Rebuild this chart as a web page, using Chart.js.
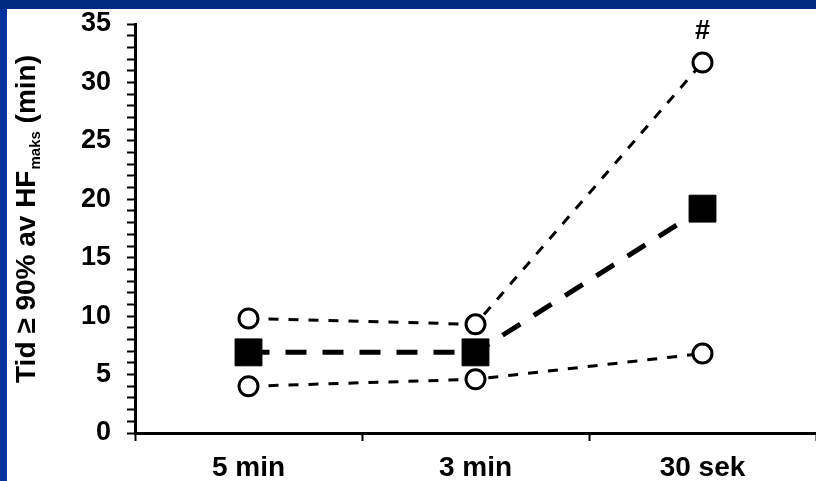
<!DOCTYPE html>
<html>
<head>
<meta charset="utf-8">
<script src="https://cdn.jsdelivr.net/npm/chart.js@4/dist/chart.umd.min.js"></script>
<style>
  html, body { margin: 0; padding: 0; width: 816px; height: 481px; overflow: hidden; background: #0033a0; }
  #top { position: absolute; left: 0; top: 0; width: 816px; height: 9px; background: #002a80; }
  #wrap { position: absolute; left: 7px; top: 9px; width: 809px; height: 472px; background: #ffffff; }
</style>
</head>
<body>
<div id="top"></div>
<div id="wrap"><canvas id="c" width="809" height="472"></canvas></div>
<script>
const categories = ['5 min', '3 min', '30 sek'];
const upperValues = [9.8, 9.3, 31.7];
const meanValues = [6.9, 6.9, 19.2];
const lowerValues = [4.0, 4.6, 6.8];
const yMin = 0, yMax = 35, yMajorStep = 5, yMinorStep = 1;
const markIndex = 2;
const markText = '#';
const yTitleMain = 'Tid \u2265 90% av HF';
const yTitleSub = 'maks';
const yTitleEnd = ' (min)';

const FONT = '"Liberation Sans", Arial, sans-serif';

const annotPlugin = {
  id: 'annot',
  afterDraw(chart) {
    const ctx = chart.ctx;
    const xs = chart.scales.x, ys = chart.scales.y;
    // "#" mark
    ctx.save();
    ctx.fillStyle = '#000';
    ctx.font = 'bold 27px ' + FONT;
    ctx.textAlign = 'center';
    ctx.textBaseline = 'middle';
    ctx.fillText(markText, xs.getPixelForValue(markIndex), ys.getPixelForValue(upperValues[markIndex]) - 31);
    ctx.restore();
    // y-axis title with subscript
    ctx.save();
    ctx.translate(28, 374);
    ctx.rotate(-Math.PI / 2);
    ctx.fillStyle = '#000';
    ctx.textAlign = 'left';
    ctx.textBaseline = 'alphabetic';
    const big = 'bold 28px ' + FONT, small = 'bold 15px ' + FONT;
    ctx.font = big;
    let x = 0;
    ctx.fillText(yTitleMain, x, 0);
    x += ctx.measureText(yTitleMain).width + 1;
    ctx.font = small;
    ctx.fillText(yTitleSub, x, 5);
    x += ctx.measureText(yTitleSub).width;
    ctx.font = big;
    ctx.fillText(yTitleEnd, x, 0);
    ctx.restore();
  }
};

new Chart(document.getElementById('c'), {
  type: 'line',
  data: {
    labels: categories,
    datasets: [
      {
        data: upperValues,
        borderColor: '#000', borderWidth: 3, borderDash: [10, 10],
        pointStyle: 'circle', pointRadius: 9.5, pointBorderWidth: 3,
        pointBackgroundColor: '#fff', pointBorderColor: '#000', fill: false
      },
      {
        data: lowerValues,
        borderColor: '#000', borderWidth: 3, borderDash: [10, 10],
        pointStyle: 'circle', pointRadius: 9.5, pointBorderWidth: 3,
        pointBackgroundColor: '#fff', pointBorderColor: '#000', fill: false
      },
      {
        data: meanValues,
        borderColor: '#000', borderWidth: 5, borderDash: [21, 16],
        pointStyle: 'rect', pointRadius: 19, pointBorderWidth: 1,
        pointBackgroundColor: '#000', pointBorderColor: '#000', fill: false
      }
    ]
  },
  options: {
    responsive: false,
    animation: false,
    layout: { autoPadding: false, padding: { top: 15, right: 0, left: 0, bottom: 0 } },
    plugins: { legend: { display: false }, tooltip: { enabled: false } },
    scales: {
      x: {
        type: 'category',
        offset: true,
        grid: { offset: true, drawOnChartArea: false, drawTicks: true, tickLength: 8, tickWidth: 2, color: '#000' },
        border: { display: true, color: '#000', width: 3 },
        ticks: { color: '#000', font: { family: FONT, size: 28, weight: 'bold' }, padding: 10, maxRotation: 0 },
        afterFit(s) { s.height = 48; s.paddingLeft = 0; s.paddingRight = 0; }
      },
      y: {
        min: yMin, max: yMax,
        grid: { drawOnChartArea: false, drawTicks: true, tickLength: 8, tickWidth: 2, color: '#000' },
        border: { display: true, color: '#000', width: 3 },
        ticks: {
          stepSize: yMinorStep, autoSkip: false, color: '#000', padding: 16,
          font: { family: FONT, size: 27, weight: 'bold' },
          callback: v => (v % yMajorStep === 0 ? String(v) : '')
        },
        afterFit(s) { s.width = 128; s.paddingTop = 0; s.paddingBottom = 0; }
      }
    }
  },
  plugins: [annotPlugin]
});
</script>
</body>
</html>
